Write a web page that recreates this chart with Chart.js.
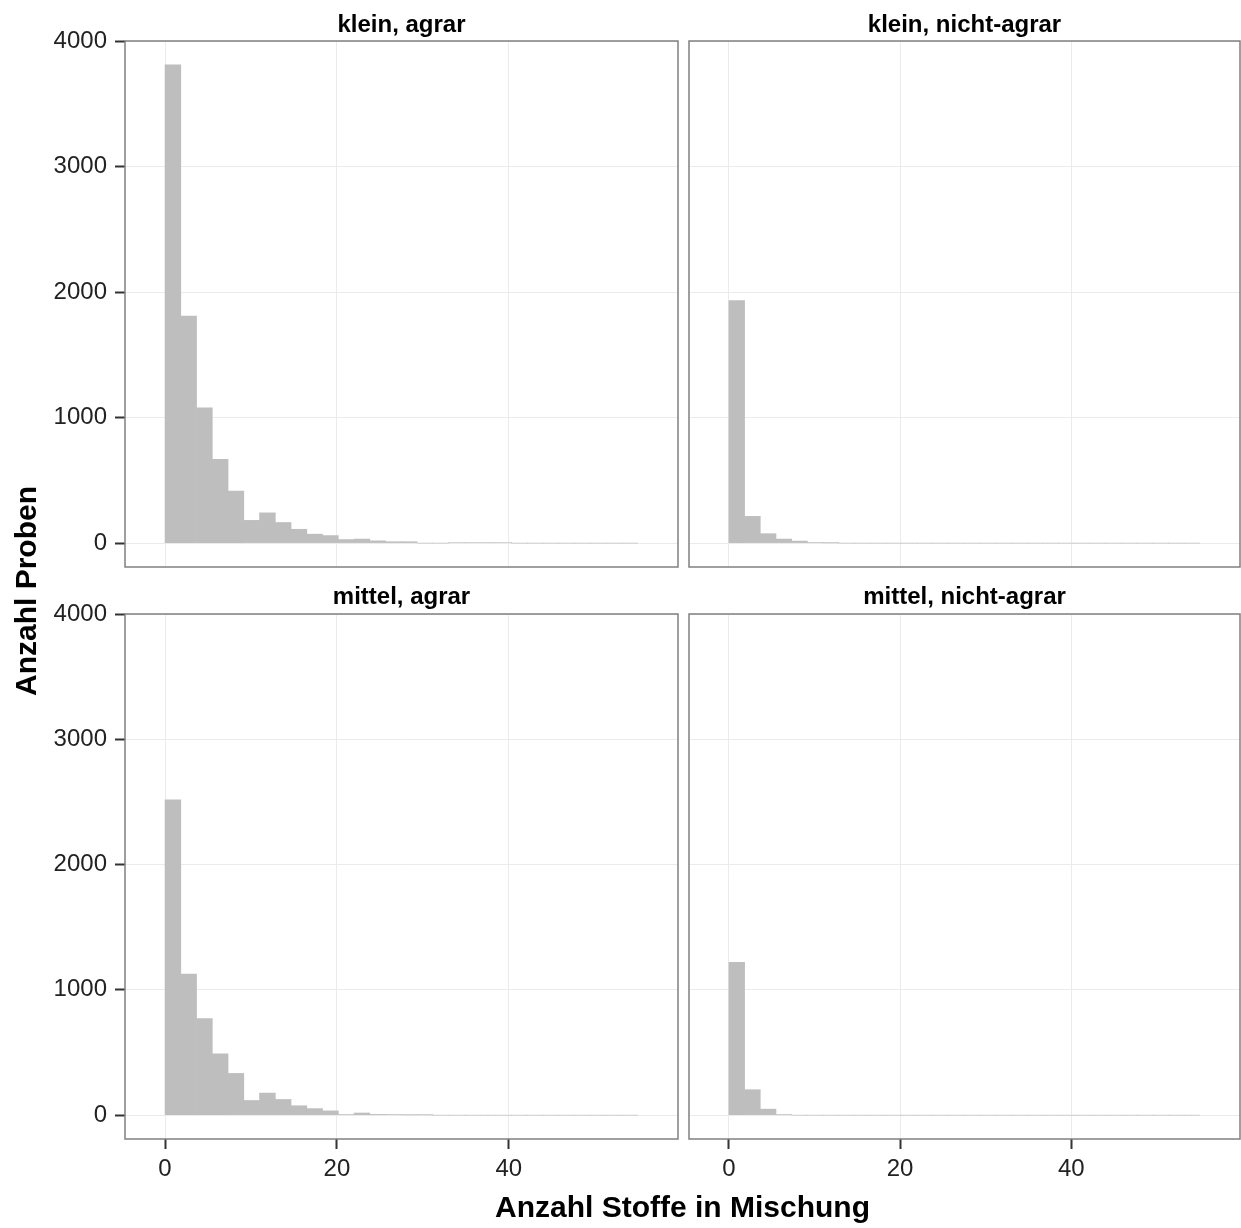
<!DOCTYPE html>
<html>
<head>
<meta charset="utf-8">
<script src="https://cdn.jsdelivr.net/npm/chart.js@4/dist/chart.umd.min.js"></script>
<style>
  body{margin:0;background:#fff;width:1241px;height:1228px;position:relative;overflow:hidden;font-family:"Liberation Sans",Arial,Helvetica,sans-serif;}
  canvas{position:absolute;display:block;}
  #xtitle{position:absolute;left:125px;width:1115px;top:1190px;text-align:center;font-weight:bold;font-size:30px;line-height:34px;color:#000;}
  #ytitle{position:absolute;left:26px;top:591px;transform:translate(-50%,-50%) rotate(-90deg);white-space:nowrap;font-weight:bold;font-size:30px;line-height:34px;color:#000;}
</style>
</head>
<body>
<canvas id="c0" width="680" height="569" style="left:0;top:0"></canvas>
<canvas id="c1" width="561" height="569" style="left:680px;top:0"></canvas>
<canvas id="c2" width="680" height="658" style="left:0;top:570px"></canvas>
<canvas id="c3" width="561" height="658" style="left:680px;top:570px"></canvas>
<div id="xtitle">Anzahl Stoffe in Mischung</div>
<div id="ytitle">Anzahl Proben</div>
<script>
// ---- data (histogram counts, 30 bins of equal width starting at 0) ----
const panelTitles = ["klein, agrar", "klein, nicht-agrar", "mittel, agrar", "mittel, nicht-agrar"];
const binWidth = 55 / 30;
const kleinAgrar       = [3810,1808,1077,668,414,181,241,164,110,71,60,28,32,18,11,11,0,0,4,4,4,4,0,0,0,0,0,0,0,0];
const kleinNichtAgrar  = [1933,213,75,32,16,5,2,0,0,0,0,0,0,0,0,0,0,0,0,0,0,0,0,0,0,0,0,0,0,0];
const mittelAgrar      = [2517,1126,770,490,333,117,176,125,75,52,34,5,17,6,5,2,2,0,0,0,0,0,0,0,0,0,0,0,0,0];
const mittelNichtAgrar = [1219,203,48,5,0,0,0,0,0,0,0,0,0,0,0,0,0,0,0,0,0,0,0,0,0,0,0,0,0,0];
const xTicks = [0, 20, 40];
const yTicks = [0, 1000, 2000, 3000, 4000];
const xAxisTitle = "Anzahl Stoffe in Mischung";
const yAxisTitle = "Anzahl Proben";

const FONT = '"Liberation Sans", Arial, Helvetica, sans-serif';

const panelBorder = {
  id: 'panelBorder',
  afterDraw(chart) {
    const {ctx, chartArea: a} = chart;
    ctx.save();
    ctx.strokeStyle = '#808080';
    ctx.lineWidth = 1.5;
    ctx.strokeRect(a.left, a.top, a.right - a.left, a.bottom - a.top);
    ctx.restore();
  }
};

function makePanel(id, title, counts, opts) {
  const points = counts.map((c, i) => ({x: (i + 0.5) * binWidth, y: c}));
  new Chart(document.getElementById(id), {
    type: 'bar',
    data: {
      datasets: [{
        data: points,
        backgroundColor: '#bebebe',
        borderWidth: 0,
        barPercentage: 1,
        categoryPercentage: 1
      }]
    },
    options: {
      responsive: false,
      animation: false,
      layout: {padding: {left: 0, right: opts.padRight, top: 0, bottom: 0}},
      plugins: {
        legend: {display: false},
        tooltip: {enabled: false},
        title: {
          display: true,
          text: title,
          fullSize: false,
          color: '#000',
          font: {family: FONT, size: 24, weight: 'bold', lineHeight: 1.2},
          padding: {top: opts.titleTop, bottom: opts.titleBottom}
        }
      },
      scales: {
        x: {
          type: 'linear',
          min: -4.66,
          max: 59.7,
          offset: false,
          afterBuildTicks: s => { s.ticks = xTicks.map(v => ({value: v})); },
          afterFit: s => { s.height = opts.xHeight; s.paddingLeft = 0; s.paddingRight = 0; },
          border: {display: false},
          grid: {
            offset: false,
            color: '#ebebeb',
            lineWidth: 1,
            drawTicks: opts.showX,
            tickLength: 10,
            tickColor: '#333',
            tickWidth: 2
          },
          ticks: {
            display: opts.showX,
            padding: 6,
            color: '#222',
            maxRotation: 0,
            callback: v => String(v),
            font: {family: FONT, size: 24}
          }
        },
        y: {
          type: 'linear',
          min: -190.5,
          max: 4000.5,
          afterBuildTicks: s => { s.ticks = yTicks.map(v => ({value: v})); },
          afterFit: s => { s.width = opts.yWidth; s.paddingTop = 0; s.paddingBottom = 0; },
          border: {display: false},
          grid: {
            offset: false,
            color: '#ebebeb',
            lineWidth: 1,
            drawTicks: opts.showY,
            tickLength: 10,
            tickColor: '#333',
            tickWidth: 2
          },
          ticks: {
            display: opts.showY,
            padding: 8,
            color: '#222',
            callback: v => String(v),
            font: {family: FONT, size: 24}
          }
        }
      }
    },
    plugins: [panelBorder]
  });
}

makePanel('c0', panelTitles[0], kleinAgrar,       {showX: false, showY: true,  yWidth: 125, xHeight: 2,  padRight: 2, titleTop: 11, titleBottom: 1.2});
makePanel('c1', panelTitles[1], kleinNichtAgrar,  {showX: false, showY: false, yWidth: 9,   xHeight: 2,  padRight: 1, titleTop: 11, titleBottom: 1.2});
makePanel('c2', panelTitles[2], mittelAgrar,      {showX: true,  showY: true,  yWidth: 125, xHeight: 89, padRight: 2, titleTop: 13, titleBottom: 2.2});
makePanel('c3', panelTitles[3], mittelNichtAgrar, {showX: true,  showY: false, yWidth: 9,   xHeight: 89, padRight: 1, titleTop: 13, titleBottom: 2.2});
</script>
</body>
</html>
